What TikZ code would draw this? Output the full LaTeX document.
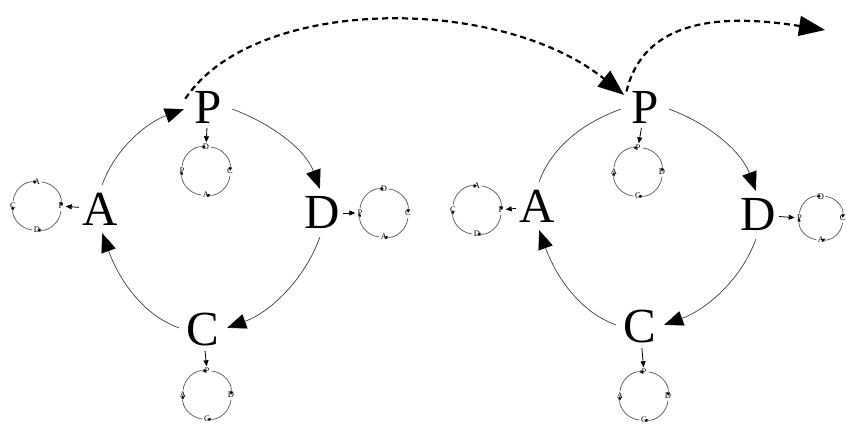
\documentclass[tikz,border=0pt]{standalone}
\usepackage{fontspec}
\setmainfont{Liberation Serif}
\usetikzlibrary{arrows.meta}
\tikzset{
  big/.style={circle, inner sep=0pt, minimum size=48pt, font=\fontsize{49}{49}\selectfont},
  lbl/.style={circle, inner sep=0pt, minimum size=9pt, font=\fontsize{8.5}{8.5}\selectfont},
  bigline/.style={line width=0.7pt, draw=black!75, looseness=0.9},
  bigarc/.style={bigline, -{Triangle[length=19pt,width=15pt,color=black]}},
  smallarc/.style={line width=0.7pt, draw=black!65, -{Triangle[length=3.5pt,width=3pt,color=black]}},
  feed/.style={line width=0.8pt, draw=black, shorten <=-3pt, -{Triangle[length=6pt,width=5pt]}},
  jump/.style={line width=2.2pt, dash pattern=on 6pt off 4pt, -{Triangle[length=26pt,width=20pt]}},
  pics/minicyc/.style n args={4}{code={
    \node[lbl] (-t) at (0,24) {#1};
    \node[lbl] (-r) at (24,0) {#2};
    \node[lbl] (-b) at (0,-24) {#3};
    \node[lbl] (-l) at (-24,0) {#4};
    \draw[smallarc] (-t) to[bend left=45] (-r);
    \draw[smallarc] (-r) to[bend left=45] (-b);
    \draw[smallarc] (-b) to[bend left=45] (-l);
    \draw[smallarc] (-l) to[bend left=45] (-t);
  }}
}
\begin{document}
\begin{tikzpicture}[x=1pt,y=1pt]
\useasboundingbox[fill=white] (0,0) rectangle (847,428);

% left cycle
\node[big] (P1) at (208,321) {P};
\node[big] (D1) at (322,215) {D};
\node[big] (C1) at (203,98) {C};
\node[big] (A1) at (100,219) {A};
\draw[bigarc] (A1.85) to[out=70,in=200] (P1.185);
\draw[bigarc] (P1.-5) to[out=-20,in=110] (D1.95);
\draw[bigarc] (D1.-95) to[out=-110,in=20] (C1.5);
\draw[bigarc] (C1.175) to[out=160,in=290] (A1.-85);

\pic (sa1) at (37,222) {minicyc={A}{P}{D}{C}};
\pic (sp1) at (206,257) {minicyc={D}{C}{A}{P}};
\pic (sd1) at (384,215) {minicyc={D}{C}{A}{P}};
\pic (sc1) at (207,33) {minicyc={P}{D}{C}{A}};
\draw[feed] (A1) -- (sa1-r);
\draw[feed] (P1) -- (sp1-t);
\draw[feed] (D1) -- (sd1-l);
\draw[feed] (C1) -- (sc1-t);

% right cycle
\node[big] (P2) at (645,321) {P};
\node[big] (D2) at (758,213) {D};
\node[big] (C2) at (640,101) {C};
\node[big] (A2) at (537,222) {A};
\draw[bigline] (A2.85) to[out=70,in=200] (P2.185);
\draw[bigarc] (P2.-5) to[out=-20,in=110] (D2.95);
\draw[bigarc] (D2.-95) to[out=-110,in=20] (C2.5);
\draw[bigarc] (C2.175) to[out=160,in=290] (A2.-85);

\pic (sa2) at (477,218) {minicyc={A}{P}{D}{C}};
\pic (sp2) at (638,256) {minicyc={P}{D}{C}{A}};
\pic[scale=0.9] (sd2) at (821,210) {minicyc={D}{C}{A}{P}};
\pic (sc2) at (644,32) {minicyc={P}{D}{C}{A}};
\draw[feed] (A2) -- (sa2-r);
\draw[feed] (P2) -- (sp2-t);
\draw[feed] (D2) -- (sd2-l);
\draw[feed] (C2) -- (sc2-t);

% dashed transitions
\coordinate (next) at (825,398);
\draw[jump] (P1.160) .. controls (255,433) and (500,433) .. (P2.150);
\draw[jump] (P2.140) .. controls (645,413) and (730,413) .. (next);
\end{tikzpicture}
\end{document}
